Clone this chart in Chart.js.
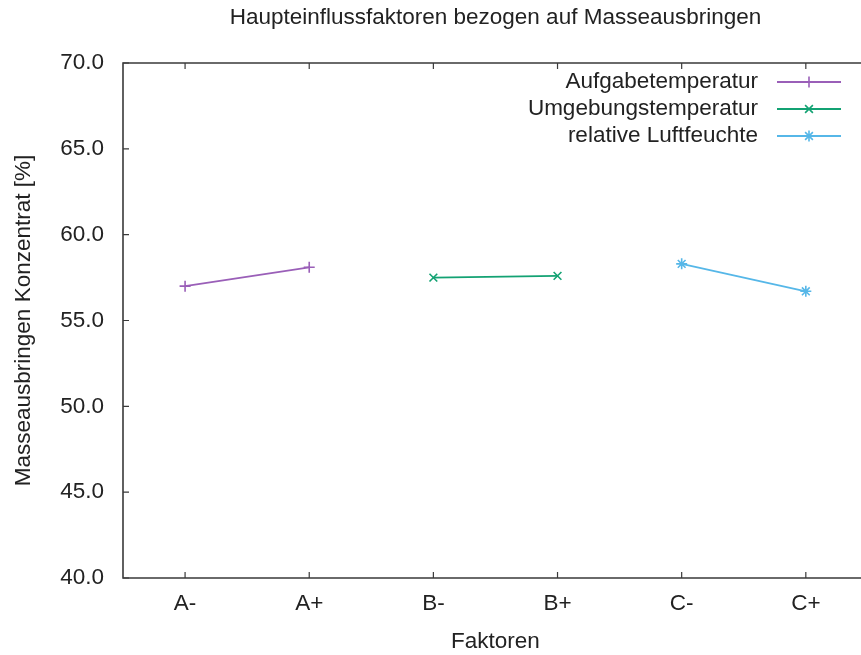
<!DOCTYPE html>
<html>
<head>
<meta charset="utf-8">
<script src="https://cdn.jsdelivr.net/npm/chart.js@4/dist/chart.umd.min.js"></script>
<style>
html,body{margin:0;padding:0;background:#fff;overflow:hidden;}
#wrap{width:861px;height:655px;overflow:hidden;position:relative;}
canvas{display:block;}
</style>
</head>
<body>
<div id="wrap"><canvas id="c" width="875" height="655"></canvas></div>
<script>
// ---- data ----
const categories = ['A-', 'A+', 'B-', 'B+', 'C-', 'C+'];
const seriesNames = ['Aufgabetemperatur', 'Umgebungstemperatur', 'relative Luftfeuchte'];
const aufgabeValues = [57.0, 58.1, null, null, null, null];
const umgebungValues = [null, null, 57.5, 57.6, null, null];
const luftValues = [null, null, null, null, 58.3, 56.7];
const yTickValues = [40, 45, 50, 55, 60, 65, 70];
const titleText = 'Haupteinflussfaktoren bezogen auf Masseausbringen';
const xTitle = 'Faktoren';
const yTitle = 'Masseausbringen Konzentrat [%]';

const FONT = "'Liberation Sans', Arial, sans-serif";
const FS = 22.5;
const colors = ['#9a5fb8', '#13a273', '#56b7e8'];
const styles = ['cross', 'crossRot', 'star'];
const axisColor = '#3a3a3a';

function ds(label, data, i) {
  return {
    label: label, data: data,
    borderColor: colors[i], backgroundColor: colors[i],
    borderWidth: 1.8, pointStyle: styles[i], pointRadius: 5.5,
    pointBorderWidth: 1.6, pointBorderColor: colors[i],
    spanGaps: false, tension: 0, fill: false
  };
}

const framePlugin = {
  id: 'frame',
  beforeDatasetsDraw(chart) {
    const {ctx, chartArea: a, scales} = chart;
    ctx.save();
    ctx.strokeStyle = axisColor;
    ctx.lineWidth = 1.6;
    ctx.beginPath();
    ctx.rect(a.left, a.top, a.right - a.left, a.bottom - a.top);
    ctx.stroke();
    ctx.lineWidth = 1.2;
    const tl = 6;
    ctx.beginPath();
    scales.y.ticks.forEach(t => {
      const y = scales.y.getPixelForValue(t.value);
      ctx.moveTo(a.left, y); ctx.lineTo(a.left + tl, y);
      ctx.moveTo(a.right, y); ctx.lineTo(a.right - tl, y);
    });
    scales.x.ticks.forEach((t, i) => {
      const x = scales.x.getPixelForTick(i);
      ctx.moveTo(x, a.bottom); ctx.lineTo(x, a.bottom - tl);
      ctx.moveTo(x, a.top); ctx.lineTo(x, a.top + tl);
    });
    ctx.stroke();
    // title centred over the plot area
    ctx.fillStyle = '#222';
    ctx.font = FS + 'px ' + FONT;
    ctx.textAlign = 'center';
    ctx.textBaseline = 'middle';
    ctx.fillText(titleText, (a.left + a.right) / 2, 18);
    ctx.restore();
  }
};

const legendPlugin = {
  id: 'insideLegend',
  afterDatasetsDraw(chart) {
    const {ctx} = chart;
    const textRight = 758, lineL = 777, lineR = 841, markX = 809;
    const rows = [82, 109, 136];
    ctx.save();
    ctx.font = FS + 'px ' + FONT;
    ctx.textAlign = 'right';
    ctx.textBaseline = 'middle';
    chart.data.datasets.forEach((d, i) => {
      const y = rows[i];
      ctx.fillStyle = '#222';
      ctx.fillText(d.label, textRight, y);
      ctx.strokeStyle = d.borderColor;
      ctx.lineWidth = 1.8;
      ctx.beginPath(); ctx.moveTo(lineL, y); ctx.lineTo(lineR, y); ctx.stroke();
      ctx.fillStyle = d.backgroundColor;
      ctx.lineWidth = 1.6;
      Chart.helpers.drawPoint(ctx, {pointStyle: d.pointStyle, radius: 5.5, rotation: 0, borderWidth: 1.6}, markX, y);
    });
    ctx.restore();
  }
};

new Chart(document.getElementById('c'), {
  type: 'line',
  data: {
    labels: categories,
    datasets: [
      ds(seriesNames[0], aufgabeValues, 0),
      ds(seriesNames[1], umgebungValues, 1),
      ds(seriesNames[2], luftValues, 2)
    ]
  },
  options: {
    responsive: false,
    animation: false,
    devicePixelRatio: 1,
    layout: {padding: {left: 0, right: 7, top: 63, bottom: 0}},
    plugins: {
      legend: {display: false},
      tooltip: {enabled: false},
      title: {display: false}
    },
    scales: {
      x: {
        type: 'category', offset: true,
        grid: {display: false, drawTicks: false},
        border: {display: false},
        ticks: {color: '#222', font: {family: FONT, size: FS}, padding: 12, maxRotation: 0, autoSkip: false},
        title: {display: true, text: xTitle, color: '#222', font: {family: FONT, size: FS}, padding: {top: 0, bottom: 0}},
        afterFit(s) { s.height = 77; }
      },
      y: {
        type: 'linear', min: 40, max: 70,
        grid: {display: false, drawTicks: false},
        border: {display: false},
        afterBuildTicks(s) { s.ticks = yTickValues.map(v => ({value: v})); },
        ticks: {color: '#222', font: {family: FONT, size: FS}, padding: 19,
          callback: v => Number(v).toFixed(1)},
        title: {display: true, text: yTitle, color: '#222', font: {family: FONT, size: FS}, padding: {top: 10, bottom: 0}},
        afterFit(s) { s.width = 123; }
      }
    }
  },
  plugins: [framePlugin, legendPlugin]
});
</script>
</body>
</html>
